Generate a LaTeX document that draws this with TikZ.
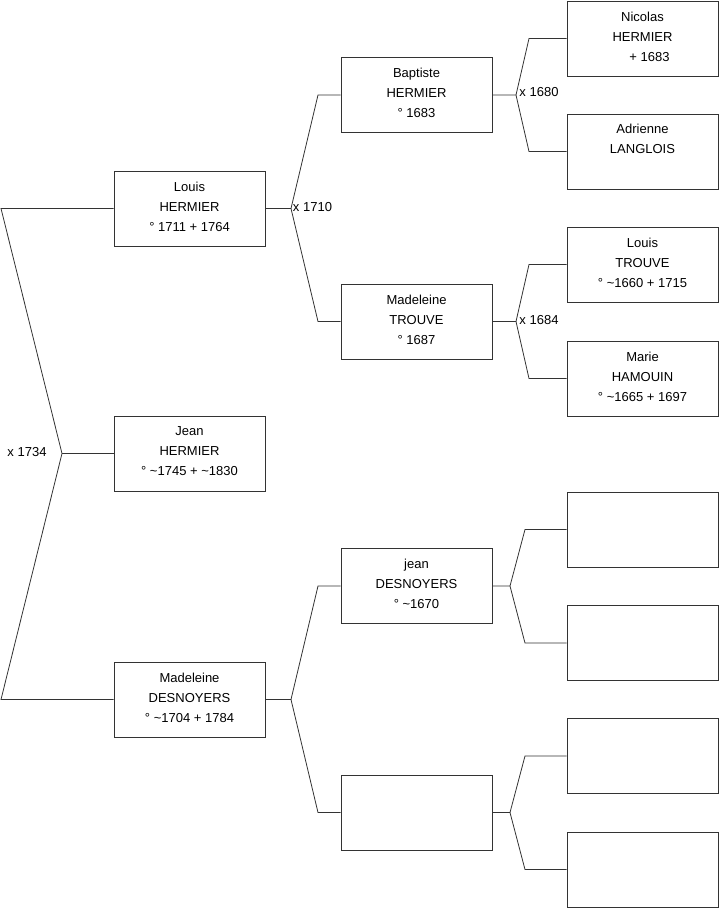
\documentclass[tikz,border=0pt]{standalone}
\usepackage{fontspec}
\setmainfont{Liberation Sans}
\begin{document}
\begin{tikzpicture}[x=1pt,y=-1pt,
  person/.style={draw=black!80, line width=0.8pt, fill=white, minimum width=151pt, minimum height=75pt, inner sep=0pt, align=center, font=\fontsize{13}{20}\selectfont, execute at end node={\rule[-4pt]{0pt}{4pt}}},
  link/.style={draw=black!80, line width=0.8pt},
  lbl/.style={font=\fontsize{13}{15}\selectfont, inner sep=0pt}]
\useasboundingbox (0,0) rectangle (719,908);
% level 1
\node[person] (louis) at (189.5,208.5) {Louis\\HERMIER\\° 1711 + 1764};
\node[person] (jean) at (189.5,453.5) {Jean\\HERMIER\\° \textasciitilde1745 + \textasciitilde1830};
\node[person] (madd) at (189.5,699.5) {Madeleine\\DESNOYERS\\° \textasciitilde1704 + 1784};
% level 2
\node[person] (bapt) at (416.5,95) {Baptiste\\HERMIER\\° 1683};
\node[person] (madt) at (416.5,321.5) {Madeleine\\TROUVE\\° 1687};
\node[person] (jeand) at (416.5,586) {jean\\DESNOYERS\\° \textasciitilde1670};
\node[person] (emp2) at (416.5,812.5) {};
% level 3
\node[person] (nico) at (642.5,38.5) {Nicolas\\HERMIER\\\hspace{14pt}+ 1683};
\node[person] (adri) at (642.5,151.5) {Adrienne\\LANGLOIS\\\strut};
\node[person] (louist) at (642.5,264.5) {Louis\\TROUVE\\° \textasciitilde1660 + 1715};
\node[person] (marie) at (642.5,378.5) {Marie\\HAMOUIN\\° \textasciitilde1665 + 1697};
\node[person] (e1) at (642.5,529.5) {};
\node[person] (e2) at (642.5,643) {};
\node[person] (e3) at (642.5,756) {};
\node[person] (e4) at (642.5,869.5) {};
% root bracket
\coordinate (r0) at (1,208.5);
\coordinate (r1) at (62,453.5);
\coordinate (r2) at (1,699.5);
\draw[link] (louis.west) -- (r0) -- (r1) -- (r2) -- (madd.west);
\draw[link] (r1) -- (jean.west);
\node[lbl] (l1734) at (27,452) {x 1734};
% Louis parents
\coordinate (a0) at (291,208.5);
\coordinate (a1) at (318,95);
\coordinate (a2) at (318,321.5);
\draw[link] (louis.east) -- (a0) -- (a1) -- (bapt.west);
\draw[link] (a0) -- (a2) -- (madt.west);
\node[lbl] (l1710) at (312.5,207.5) {x 1710};
% Madeleine D parents
\coordinate (b0) at (291,699.5);
\coordinate (b1) at (318,586);
\coordinate (b2) at (318,812.5);
\draw[link] (madd.east) -- (b0) -- (b1) -- (jeand.west);
\draw[link] (b0) -- (b2) -- (emp2.west);
% Baptiste parents
\coordinate (c0) at (516,95);
\coordinate (c1) at (529,38.5);
\coordinate (c2) at (529,151.5);
\draw[link] (bapt.east) -- (c0) -- (c1) -- (nico.west);
\draw[link] (c0) -- (c2) -- (adri.west);
\node[lbl] (l1680) at (539,92.5) {x 1680};
% Madeleine T parents
\coordinate (d0) at (516,321.5);
\coordinate (d1) at (529,264.5);
\coordinate (d2) at (529,378.5);
\draw[link] (madt.east) -- (d0) -- (d1) -- (louist.west);
\draw[link] (d0) -- (d2) -- (marie.west);
\node[lbl] (l1684) at (539,320.5) {x 1684};
% jean D parents
\coordinate (f0) at (510,586);
\coordinate (f1) at (525,529.5);
\coordinate (f2) at (525,643);
\draw[link] (jeand.east) -- (f0) -- (f1) -- (e1.west);
\draw[link] (f0) -- (f2) -- (e2.west);
% empty parents
\coordinate (g0) at (510,812.5);
\coordinate (g1) at (525,756);
\coordinate (g2) at (525,869.5);
\draw[link] (emp2.east) -- (g0) -- (g1) -- (e3.west);
\draw[link] (g0) -- (g2) -- (e4.west);
\end{tikzpicture}
\end{document}
